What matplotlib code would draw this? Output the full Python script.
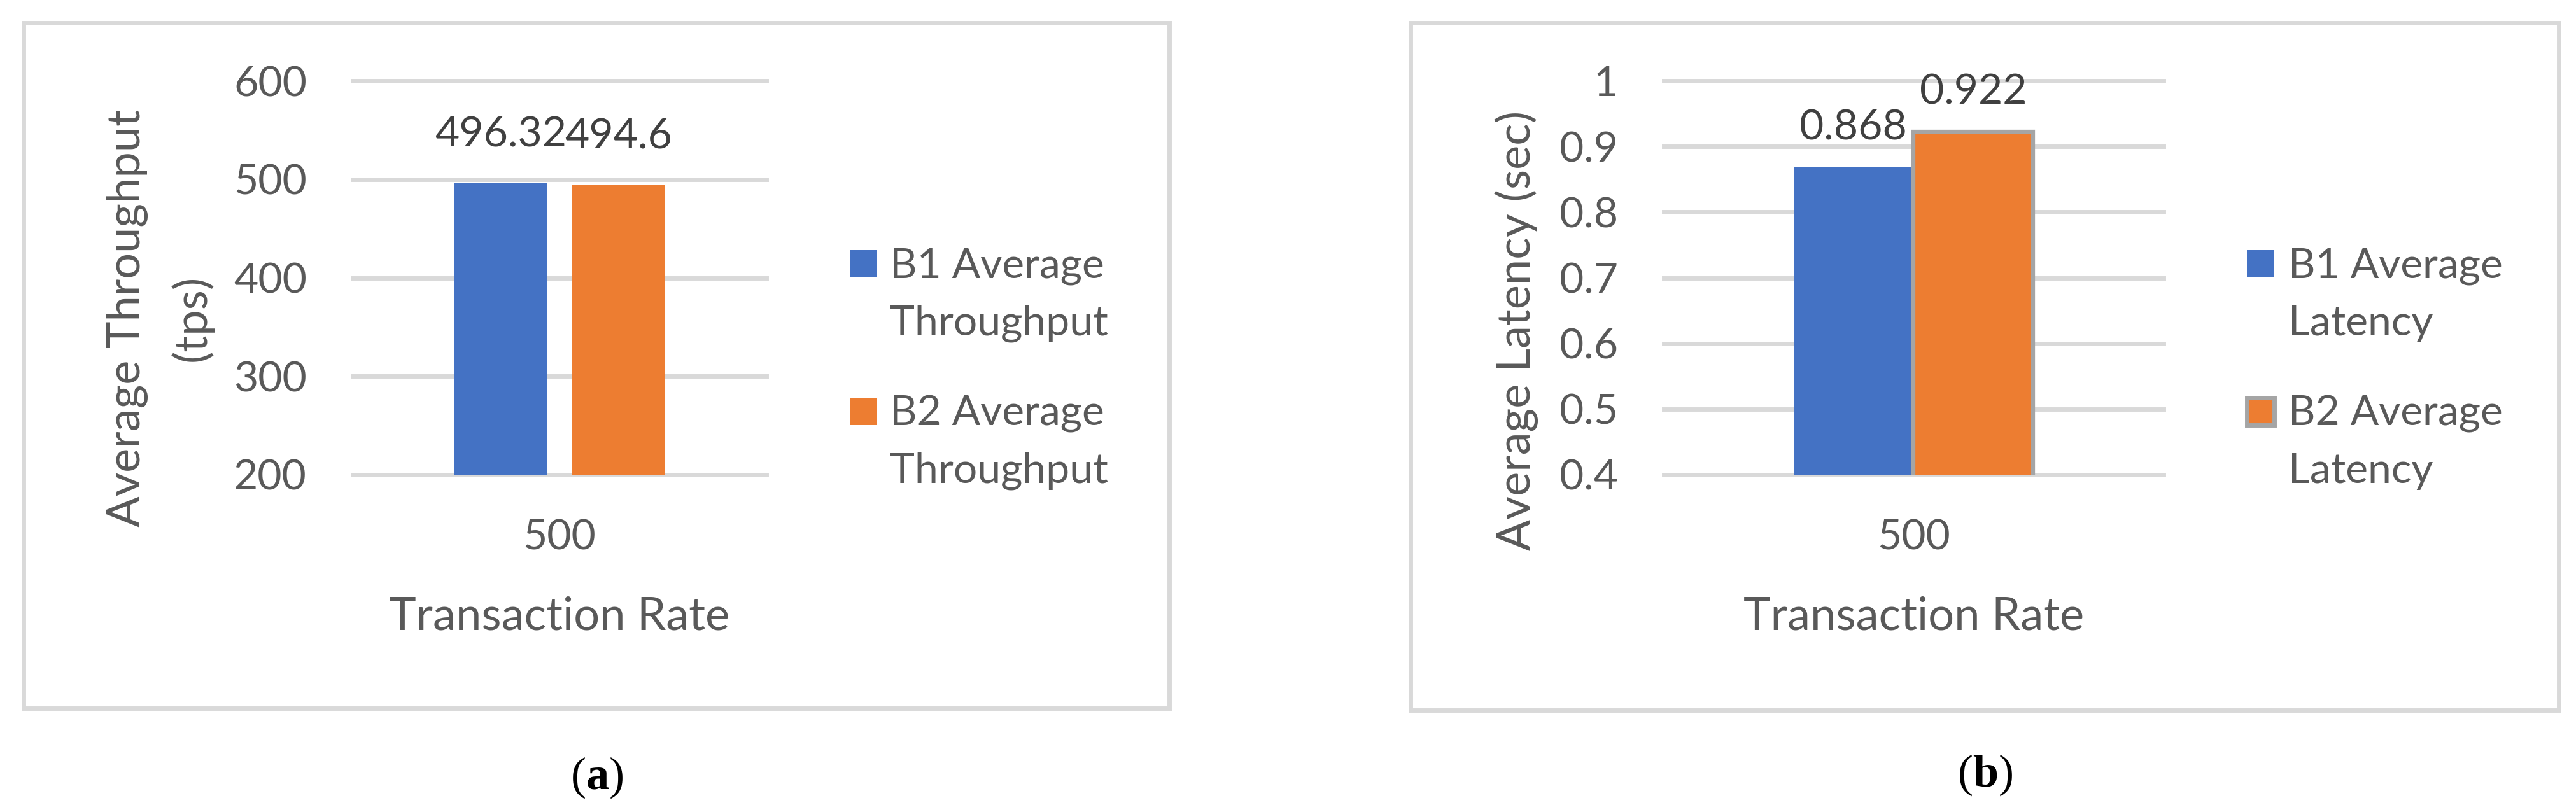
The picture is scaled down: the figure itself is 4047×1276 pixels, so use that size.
import matplotlib.pyplot as plt
from matplotlib.patches import Rectangle

# values
categories = ["500"]
throughput_b1 = [496.32]
throughput_b2 = [494.6]
latency_b1 = [0.868]
latency_b2 = [0.922]

series_a = ["B1 Average Throughput", "B2 Average Throughput"]
series_b = ["B1 Average Latency", "B2 Average Latency"]
yticks_a = [200, 300, 400, 500, 600]
yticks_b = [0.4, 0.5, 0.6, 0.7, 0.8, 0.9, 1.0]

W, H = 4047, 1276
BLUE = '#4472C4'
ORANGE = '#ED7D31'
GRID = '#D9D9D9'
TXT = '#595959'
LBL = '#404040'
EDGE = '#A5A5A5'

plt.rcParams['font.family'] = ['Lato', 'DejaVu Sans']
plt.rcParams['mathtext.fontset'] = 'custom'
plt.rcParams['mathtext.rm'] = 'Liberation Serif'
plt.rcParams['mathtext.bf'] = 'Liberation Serif:bold'

fig = plt.figure(figsize=(W / 100, H / 100), dpi=100)


def frame(x0, y0, x1, y1):
    fig.add_artist(Rectangle((x0 / W, 1 - y1 / H), (x1 - x0) / W, (y1 - y0) / H,
                             transform=fig.transFigure, fill=False, ec=GRID, lw=5))


def make_axes(x0, x1, ytop=127, ybot=746):
    return fig.add_axes([x0 / W, 1 - ybot / H, (x1 - x0) / W, (ybot - ytop) / H])


def style(ax, ticks):
    ax.set_ylim(ticks[0], ticks[-1])
    ax.set_yticks(ticks, ['{:g}'.format(t) for t in ticks])
    ax.set_xlim(-0.5, 0.5)
    ax.set_xticks(range(len(categories)), categories)
    for s in ax.spines.values():
        s.set_visible(False)
    ax.grid(axis='y', color=GRID, lw=5)
    ax.set_axisbelow(True)
    for gl in ax.get_ygridlines():
        gl.set_clip_on(False)
    ax.tick_params(axis='y', length=0, pad=52, labelsize=47.5, labelcolor=TXT)
    ax.tick_params(axis='x', length=0, pad=50, labelsize=47.5, labelcolor=TXT)
    ax.set_xlabel("Transaction Rate", fontsize=52, color=TXT, va='baseline')
    ax.xaxis.set_label_coords(0.5, (746 - 989) / 619)


def data_labels(ax, xs, vals, off):
    for x, v in zip(xs, vals):
        ax.annotate('{:g}'.format(v), xy=(x, v), xytext=(0, off), textcoords='offset points',
                    ha='center', va='baseline', fontsize=47.5, color=LBL)


def legend(x_sq, x_txt, labels, colors, edges, baselines):
    for lab, c, e, yb in zip(labels, colors, edges, baselines):
        fig.add_artist(Rectangle((x_sq / W, 1 - yb / H), 43 / W, 43 / H,
                                 transform=fig.transFigure, fc=c,
                                 ec=e if e else c, lw=5 if e else 0))
        parts = lab.split(' ', 2)
        fig.text(x_txt / W, 1 - yb / H, ' '.join(parts[:2]), fontsize=47.5, color=TXT,
                 ha='left', va='baseline')
        fig.text(x_txt / W, 1 - (yb + 91) / H, parts[2], fontsize=47.5, color=TXT,
                 ha='left', va='baseline')


# (a) throughput
frame(37, 36, 1837, 1113)
ax_a = make_axes(554, 1204)
style(ax_a, yticks_a)
xa = range(len(categories))
ax_a.bar([x - 0.1425 for x in xa], throughput_b1, 0.225, color=BLUE)
ax_a.bar([x + 0.1425 for x in xa], throughput_b2, 0.225, color=ORANGE)
data_labels(ax_a, [x - 0.1425 for x in xa], throughput_b1, 41)
data_labels(ax_a, [x + 0.1425 for x in xa], throughput_b2, 41)
ax_a.set_ylabel("Average Throughput\n(tps)", fontsize=52, color=TXT, linespacing=1.6,
                ha='center', va='center')
ax_a.yaxis.set_label_coords((251 - 554) / 650, (746 - 500) / 619)
legend(1335, 1398, series_a, [BLUE, ORANGE], [None, None], [436, 668])

# (b) latency
frame(2216, 36, 4020, 1116)
ax_b = make_axes(2614, 3399)
style(ax_b, yticks_b)
ax_b.bar([x - 0.121 for x in xa], latency_b1, 0.235, color=BLUE)
ax_b.bar([x + 0.119 for x in xa], latency_b2, 0.239, color=ORANGE, ec=EDGE, lw=4.5)
data_labels(ax_b, [x - 0.121 for x in xa], latency_b1, 31.7)
data_labels(ax_b, [x + 0.119 for x in xa], latency_b2, 31.7)
ax_b.set_ylabel("Average Latency (sec)", fontsize=52, color=TXT, ha='center', va='center')
ax_b.yaxis.set_label_coords((2383 - 2614) / 785, (746 - 519) / 619)
legend(3530, 3595, series_b, [BLUE, ORANGE], [None, EDGE], [436, 668])

# panel captions
fig.text(938 / W, 1 - 1222 / H, r'($\mathbf{a}$)', fontsize=52, family='Liberation Serif',
         ha='center', va='center')
fig.text(3119 / W, 1 - 1218 / H, r'($\mathbf{b}$)', fontsize=52, family='Liberation Serif',
         ha='center', va='center')

fig.savefig('out.png', dpi=100)
